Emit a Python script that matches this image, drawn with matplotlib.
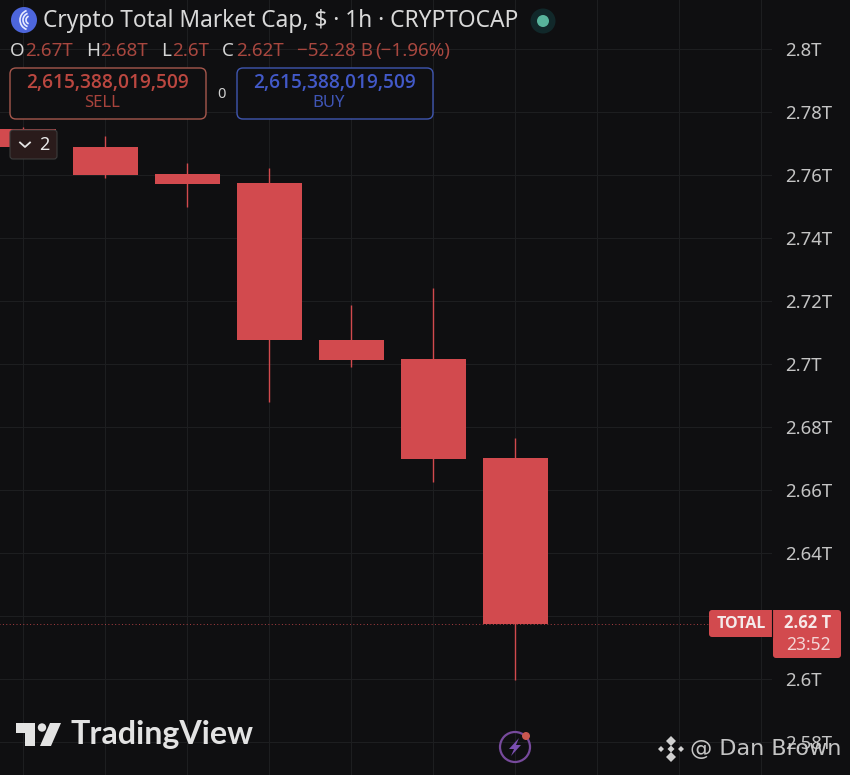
import numpy as np
import matplotlib
matplotlib.use("Agg")
import matplotlib.pyplot as plt
from matplotlib.patches import Circle, FancyBboxPatch, Polygon, Arc

# candles, values in trillions
opens = [2.7746, 2.7689, 2.7603, 2.7575, 2.7076, 2.7016, 2.6702]
highs = [2.7752, 2.7724, 2.7638, 2.7622, 2.7187, 2.7241, 2.6765]
lows = [2.7689, 2.7590, 2.7498, 2.6879, 2.6990, 2.6625, 2.5997]
closes = [2.7689, 2.7600, 2.7571, 2.7076, 2.7013, 2.6698, 2.6175]
price_ticks = [2.58, 2.6, 2.62, 2.64, 2.66, 2.68, 2.7, 2.72, 2.74, 2.76, 2.78, 2.8]
price_labels = ["2.58T", "2.6T", "", "2.64T", "2.66T", "2.68T", "2.7T", "2.72T", "2.74T", "2.76T", "2.78T", "2.8T"]
time_ticks = list(range(0, 10))

BG = "#0f0f11"
GRID = "#1d1e20"
RED = "#d24a4e"

plt.rcParams["font.family"] = ["Noto Sans", "DejaVu Sans"]

W, H = 850, 775
fig = plt.figure(figsize=(8.5, 7.75), dpi=100, facecolor=BG)

# main chart, stops where the price scale starts
ax = fig.add_axes([0, 0, 772 / W, 1], facecolor=BG)
x = np.arange(len(opens))
ax.set_xlim(-23.5 / 82, (772 - 23.5) / 82)
ax.set_ylim(2.8 - (775 - 49) / 3150, 2.8 + 49 / 3150)
ax.set_xticks(time_ticks)
ax.set_yticks(price_ticks)
ax.set_yticklabels(price_labels, color="#c4c4c4", fontsize=13.4, ha="left")
ax.set_xticklabels([])
ax.yaxis.tick_right()
ax.tick_params(axis="both", length=0)
ax.tick_params(axis="y", pad=9.5)
ax.grid(True, color=GRID, lw=0.8)
ax.set_axisbelow(True)
for s in ax.spines.values():
    s.set_visible(False)

ax.vlines(x, lows, highs, color=RED, lw=1.0, zorder=2)
bottoms = np.minimum(opens, closes)
heights = np.abs(np.array(opens) - np.array(closes))
ax.bar(x, heights, bottom=bottoms, width=65 / 82, color=RED, zorder=3)
ax.plot([-0.3, (708 - 23.5) / 82], [closes[-1], closes[-1]], color=RED, lw=0.7, ls=(0, (1, 2.5)), alpha=0.8, zorder=2)

# overlay in pixels for the tradingview furniture
ov = fig.add_axes([0, 0, 1, 1])
ov.set_xlim(0, W)
ov.set_ylim(H, 0)
ov.axis("off")
ov.patch.set_alpha(0)


def box(x0, y0, x1, y1, fc, ec, r=6, lw=1.0):
    ov.add_patch(FancyBboxPatch((x0 + r, y0 + r), x1 - x0 - 2 * r, y1 - y0 - 2 * r,
                                boxstyle="round,pad=%d,rounding_size=%d" % (r, r),
                                fc=fc, ec=ec, lw=lw))


# header
ov.add_patch(Circle((24, 20), 13, fc="#4d66dc", ec="none"))
for r in (4, 7, 10):
    ov.add_patch(Arc((30, 20), 2 * r, 2 * r, theta1=110, theta2=250, color="#e8ecff", lw=1.2))
ov.text(43.5, 21, "Crypto Total Market Cap, $ · 1h · CRYPTOCAP", color="#d9d9d9", fontsize=16.4, va="center")
ov.add_patch(Circle((543, 21), 12.5, fc="#11282a", ec="none"))
ov.add_patch(Circle((543, 21), 6, fc="#58b49c", ec="none"))

ohlc_red = "#a8473f"
for key, kx, val, vx in [("O", 10, "2.67T", 25), ("H", 86, "2.68T", 100), ("L", 161, "2.6T", 172), ("C", 222, "2.62T", 236)]:
    ov.text(kx, 51, key, color="#d5d5d5", fontsize=13.5, va="center")
    ov.text(vx, 51, val, color=ohlc_red, fontsize=13.5, va="center")
ov.text(297, 51, "−52.28 B", color=ohlc_red, fontsize=13.5, va="center")
ov.text(375, 51, "(−1.96%)", color=ohlc_red, fontsize=13.5, va="center")

box(10, 68, 206, 119, BG, "#a5574c")
ov.text(108, 83, "2,615,388,019,509", color="#bb4740", fontsize=13.8, ha="center", va="center", family="Open Sans", fontweight="semibold")
ov.text(102, 103, "SELL", color="#a8433c", fontsize=12, ha="center", va="center")
ov.text(221, 94, "0", color="#d0d0d0", fontsize=10.5, ha="center", va="center")
box(237, 68, 433, 119, BG, "#3f56b0")
ov.text(335, 83, "2,615,388,019,509", color="#4259c8", fontsize=13.8, ha="center", va="center", family="Open Sans", fontweight="semibold")
ov.text(329, 103, "BUY", color="#3f55b5", fontsize=12, ha="center", va="center")

# collapse button
box(10, 130, 57, 159, "#2a1b1b", "#3c3c3c", r=3, lw=0.8)
ov.plot([20, 25, 30], [142.5, 147, 142.5], color="#e5e5e5", lw=1.3)
ov.text(44, 145, "2", color="#e8e8e8", fontsize=13, ha="center", va="center")

# last price labels
box(709, 610, 790, 637, RED, "none", r=3, lw=0)
box(773, 610, 841, 658, RED, "none", r=3, lw=0)
ov.plot([772.5, 772.5], [610, 637], color=BG, lw=0.8)
ov.text(741, 624, "TOTAL", color="#f4eaea", fontsize=11.5, ha="center", va="center", family="Open Sans", fontweight="bold")
ov.text(808, 623, "2.62 T", color="#f7e8e8", fontsize=12, ha="center", va="center", family="Open Sans", fontweight="bold")
ov.text(808, 645, "23:52", color="#f3d5d5", fontsize=12.5, ha="center", va="center")

# tradingview logo
ov.add_patch(Polygon([(16, 723), (35, 723), (35, 746), (25, 746), (25, 733), (16, 733)], fc="#e3e3e3", ec="none"))
ov.add_patch(Circle((42, 727.5), 4.2, fc="#e3e3e3", ec="none"))
ov.add_patch(Polygon([(50, 723), (61, 723), (51, 746), (40, 746)], fc="#e3e3e3", ec="none"))
ov.text(71, 734.5, "TradingView", color="#e3e3e3", fontsize=23.2, va="center", fontweight="bold", family="Lato")

# bolt badge
ov.add_patch(Circle((515, 747), 15, fc="none", ec="#774a9c", lw=1.6))
ov.add_patch(Polygon([(519, 738), (509, 749), (514, 749), (511, 756), (521, 745), (516, 745)], fc="#7a4fb0", ec="none"))
ov.add_patch(Circle((526, 736), 4, fc="#c9564f", ec="none"))

# watermark
for dx, dy, s in [(0, -8, 5), (-10, 0, 3), (10, 0, 3), (0, 8, 5), (0, 0, 3.5)]:
    ov.add_patch(Polygon([(671 + dx, 749 + dy - s), (671 + dx + s, 749 + dy), (671 + dx, 749 + dy + s), (671 + dx - s, 749 + dy)],
                         fc="#d0d0d0", ec="none"))
ov.text(690, 749, "@ Dan Brown", color="#cfcfcf", fontsize=16, va="center", alpha=0.95, family="DejaVu Sans")

fig.savefig("out.png", dpi=100, facecolor=BG)
